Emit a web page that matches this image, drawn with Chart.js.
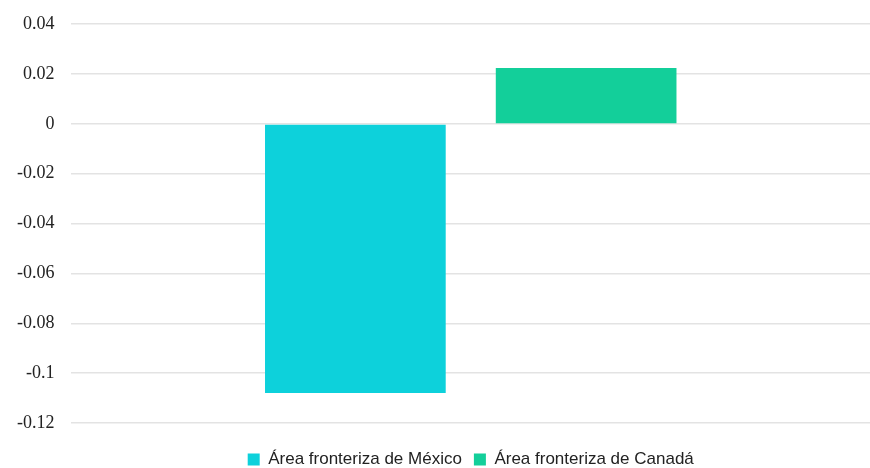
<!DOCTYPE html>
<html>
<head>
<meta charset="utf-8">
<script src="https://cdn.jsdelivr.net/npm/chart.js@4/dist/chart.umd.min.js"></script>
<style>
html,body{margin:0;padding:0;background:#fff;}
#wrap{width:870px;height:468px;position:relative;}
</style>
</head>
<body>
<div id="wrap"><canvas id="c" width="870" height="468"></canvas></div>
<script>
const categories = [""];
const seriesNames = ["Área fronteriza de México", "Área fronteriza de Canadá"];
const mexicoValues = [-0.108];
const canadaValues = [0.0224];
const yTicks = [0.04, 0.02, 0, -0.02, -0.04, -0.06, -0.08, -0.1, -0.12];

new Chart(document.getElementById('c'), {
  type: 'bar',
  data: {
    labels: categories,
    datasets: [
      {label: seriesNames[0], data: mexicoValues, backgroundColor: '#0dd1db', borderWidth: 0},
      {label: seriesNames[1], data: canadaValues, backgroundColor: '#13cf9a', borderWidth: 0}
    ]
  },
  options: {
    responsive: false,
    animation: false,
    layout: {padding: {top: 3, right: -20, left: 0, bottom: -10}},
    categoryPercentage: 0.578,
    barPercentage: 0.783,
    plugins: {
      legend: {
        position: 'bottom',
        fullSize: false,
        labels: {
          boxWidth: 12, boxHeight: 12, padding: 12,
          font: {family: '"Liberation Sans", Arial, sans-serif', size: 17},
          color: '#222'
        }
      },
      tooltip: {enabled: false}
    },
    scales: {
      x: {
        ticks: {display: false},
        grid: {display: false},
        border: {display: false},
        afterFit: (s) => { s.height = 16; }
      },
      y: {
        min: -0.12, max: 0.04,
        afterBuildTicks: (s) => { s.ticks = yTicks.map(v => ({value: v})); },
        ticks: {
          padding: 17,
          color: '#222',
          font: {family: '"Liberation Serif", "Times New Roman", serif', size: 18, lineHeight: 0.8},
          callback: (v) => String(Math.round(v * 100) / 100)
        },
        grid: {color: '#e3e3e3', lineWidth: 1.5, drawTicks: false},
        border: {display: false}
      }
    }
  }
});
</script>
</body>
</html>
